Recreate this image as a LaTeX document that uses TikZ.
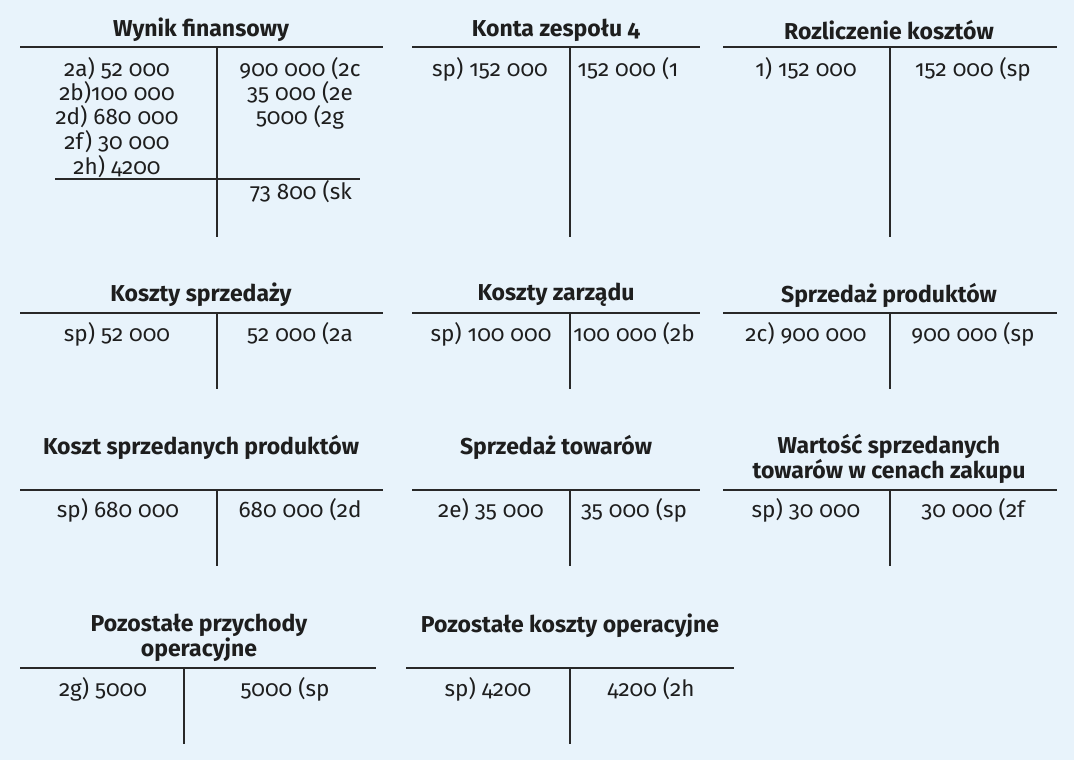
\documentclass[tikz,border=0pt]{standalone}
\usepackage{fontspec}
\setmainfont{Fira Sans}[Numbers=OldStyle]
\definecolor{bg}{RGB}{232,243,251}
\definecolor{ln}{RGB}{40,40,40}
\definecolor{tx}{RGB}{30,30,30}
\tikzset{
  ttl/.style={font=\bfseries\fontsize{23}{24.5}\selectfont, text=tx, inner sep=0pt, align=center},
  ent/.style={font=\fontsize{22.5}{24}\selectfont, text=tx, inner sep=0pt},
  rule/.style={draw=ln, line width=1.6pt}
}
\begin{document}
\begin{tikzpicture}[x=1pt,y=-1pt]
\fill[bg] (0,0) rectangle (1074,760);
\useasboundingbox (0,0) rectangle (1074,760);

% ---------- Row 1 ----------
% Wynik finansowy
\node[ttl] (t1) at (201,30) {Wynik finansowy};
\coordinate (h1a) at (20,47); \coordinate (h1b) at (383,47);
\coordinate (v1a) at (217,47); \coordinate (v1b) at (217,237);
\draw[rule] (h1a) -- (h1b); \draw[rule] (v1a) -- (v1b);
\node[ent] (w1) at (117,69) {2a) 52 000};
\node[ent] (w2) at (117,93) {2b)100 000};
\node[ent] (w3) at (117,117) {2d) 680 000};
\node[ent] (w4) at (117,142) {2f) 30 000};
\node[ent] (w5) at (117,167) {2h) 4200};
\node[ent] (w6) at (300,69) {900 000 (2c};
\node[ent] (w7) at (300,93) {35 000 (2e};
\node[ent] (w8) at (300,117) {5000 (2g};
\coordinate (s1a) at (55,179); \coordinate (s1b) at (360,179);
\draw[rule] (s1a) -- (s1b);
\node[ent] (w9) at (301,192) {73 800 (sk};

% Konta zespołu 4
\node[ttl] (t2) at (556,30) {Konta zespołu 4};
\coordinate (h2a) at (412,47); \coordinate (h2b) at (700,47);
\coordinate (v2a) at (570,47); \coordinate (v2b) at (570,237);
\draw[rule] (h2a) -- (h2b); \draw[rule] (v2a) -- (v2b);
\node[ent] (k1) at (490,69) {sp) 152 000};
\node[ent] (k2) at (628,69) {152 000 (1};

% Rozliczenie kosztów
\node[ttl] (t3) at (889,30) {Rozliczenie kosztów};
\coordinate (h3a) at (723,47); \coordinate (h3b) at (1057,47);
\coordinate (v3a) at (890,47); \coordinate (v3b) at (890,237);
\draw[rule] (h3a) -- (h3b); \draw[rule] (v3a) -- (v3b);
\node[ent] (r1) at (806,69) {1) 152 000};
\node[ent] (r2) at (973,69) {152 000 (sp};

% ---------- Row 2 ----------
\node[ttl] (t4) at (201,295) {Koszty sprzedaży};
\coordinate (h4a) at (20,313); \coordinate (h4b) at (383,313);
\coordinate (v4a) at (217,313); \coordinate (v4b) at (217,389);
\draw[rule] (h4a) -- (h4b); \draw[rule] (v4a) -- (v4b);
\node[ent] (a1) at (117,334) {sp) 52 000};
\node[ent] (a2) at (300,334) {52 000 (2a};

\node[ttl] (t5) at (556,295) {Koszty zarządu};
\coordinate (h5a) at (412,313); \coordinate (h5b) at (700,313);
\coordinate (v5a) at (570,313); \coordinate (v5b) at (570,389);
\draw[rule] (h5a) -- (h5b); \draw[rule] (v5a) -- (v5b);
\node[ent] (b1) at (491,334) {sp) 100 000};
\node[ent] (b2) at (634,334) {100 000 (2b};

\node[ttl] (t6) at (889,295) {Sprzedaż produktów};
\coordinate (h6a) at (723,313); \coordinate (h6b) at (1057,313);
\coordinate (v6a) at (890,313); \coordinate (v6b) at (890,389);
\draw[rule] (h6a) -- (h6b); \draw[rule] (v6a) -- (v6b);
\node[ent] (c1) at (806,334) {2c) 900 000};
\node[ent] (c2) at (973,334) {900 000 (sp};

% ---------- Row 3 ----------
\node[ttl] (t7) at (201,447) {Koszt sprzedanych produktów};
\coordinate (h7a) at (20,490); \coordinate (h7b) at (383,490);
\coordinate (v7a) at (217,490); \coordinate (v7b) at (217,566);
\draw[rule] (h7a) -- (h7b); \draw[rule] (v7a) -- (v7b);
\node[ent] (d1) at (118,510) {sp) 680 000};
\node[ent] (d2) at (300,510) {680 000 (2d};

\node[ttl] (t8) at (556,447) {Sprzedaż towarów};
\coordinate (h8a) at (412,490); \coordinate (h8b) at (700,490);
\coordinate (v8a) at (570,490); \coordinate (v8b) at (570,566);
\draw[rule] (h8a) -- (h8b); \draw[rule] (v8a) -- (v8b);
\node[ent] (e1) at (491,510) {2e) 35 000};
\node[ent] (e2) at (634,510) {35 000 (sp};

\node[ttl] (t9) at (889,459) {Wartość sprzedanych\\towarów w cenach zakupu};
\coordinate (h9a) at (723,490); \coordinate (h9b) at (1057,490);
\coordinate (v9a) at (890,490); \coordinate (v9b) at (890,566);
\draw[rule] (h9a) -- (h9b); \draw[rule] (v9a) -- (v9b);
\node[ent] (f1) at (806,510) {sp) 30 000};
\node[ent] (f2) at (973,510) {30 000 (2f};

% ---------- Row 4 ----------
\node[ttl] (t10) at (199,638) {Pozostałe przychody\\operacyjne};
\coordinate (h10a) at (20,668); \coordinate (h10b) at (376,668);
\coordinate (v10a) at (184,668); \coordinate (v10b) at (184,744);
\draw[rule] (h10a) -- (h10b); \draw[rule] (v10a) -- (v10b);
\node[ent] (g1) at (103,689) {2g) 5000};
\node[ent] (g2) at (285,689) {5000 (sp};

\node[ttl] (t11) at (570,626) {Pozostałe koszty operacyjne};
\coordinate (h11a) at (406,668); \coordinate (h11b) at (734,668);
\coordinate (v11a) at (570,668); \coordinate (v11b) at (570,744);
\draw[rule] (h11a) -- (h11b); \draw[rule] (v11a) -- (v11b);
\node[ent] (i1) at (488,689) {sp) 4200};
\node[ent] (i2) at (651,689) {4200 (2h};
\end{tikzpicture}
\end{document}
